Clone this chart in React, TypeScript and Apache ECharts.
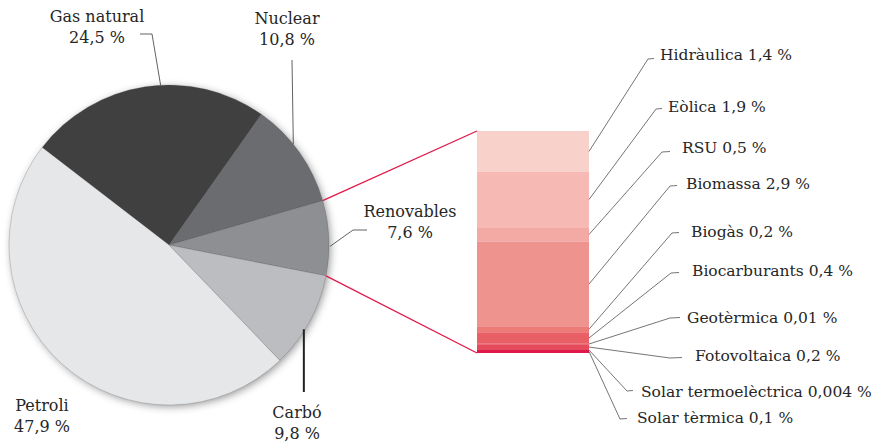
import { useEffect, useRef } from 'react';
import * as echarts from 'echarts';

// Primary energy mix
const sourceNames = ['Gas natural', 'Nuclear', 'Renovables', 'Carbó', 'Petroli'];
const sourceShares = [24.5, 10.8, 7.6, 9.8, 47.9];
const sourceColors = ['#404040', '#6b6c70', '#8e8f93', '#bcbdc1', '#e6e7e9'];

// Breakdown of the renewable share (top to bottom of the column)
const renewableNames = [
  'Hidràulica', 'Eòlica', 'RSU', 'Biomassa', 'Biogàs', 'Biocarburants',
  'Geotèrmica', 'Fotovoltaica', 'Solar termoelèctrica', 'Solar tèrmica',
];
const renewableShares = [1.4, 1.9, 0.5, 2.9, 0.2, 0.4, 0.01, 0.2, 0.004, 0.1];
const renewableColors = [
  '#f8d1cb', '#f6b9b4', '#f3a9a4', '#ee938e', '#ec7b78', '#e85f66',
  '#e6535e', '#e54b5b', '#e22d50', '#e0174a',
];

const fmt = (v: number) => `${String(v).replace('.', ',')} %`;

const SERIF = 'DejaVu Serif, serif';
const INK = '#262626';
const LEAD = '#3a3a3a';
const CRIMSON = '#e0194a';

// Layout
const PIE_CX = 169;
const PIE_CY = 245;
const PIE_R = 160;
const RENEW_MID_ANGLE = 2.5;
const BAR_LEFT = 477;
const BAR_TOP = 131;
const BAR_W = 112;
const BAR_H = 222;

const pieLabelPos = [[97, 27], [287, 29], [410, 222], [297, 423], [42, 416]];
const renewLabelPos = [
  [660, 55], [668, 107], [682, 148], [686, 184], [691, 232],
  [692, 271], [687, 318], [695, 356], [641, 392], [637, 418],
];
const renewElbow = [
  [648, 59, 654], [656, 109, 662], [662, 152, 670], [670, 186, 677], [672, 233, 679],
  [671, 273, 679], [670, 318, 680], [670, 358, 682], [627, 391, 633], [620, 419, 627],
];

const polar = (deg: number, r: number) => {
  const a = (deg * Math.PI) / 180;
  return [PIE_CX + r * Math.cos(a), PIE_CY - r * Math.sin(a)];
};

export default function App() {
  const ref = useRef<HTMLDivElement>(null);

  useEffect(() => {
    if (!ref.current) return;
    const chart = echarts.init(ref.current, undefined, { renderer: 'svg' });

    const pieTotal = sourceShares.reduce((a, b) => a + b, 0);
    const degPer = 360 / pieTotal;
    const renewIdx = sourceNames.indexOf('Renovables');
    const before = sourceShares.slice(0, renewIdx).reduce((a, b) => a + b, 0);
    const startAngle = RENEW_MID_ANGLE + (before + sourceShares[renewIdx] / 2) * degPer;
    const renewTop = startAngle - before * degPer;
    const renewBottom = renewTop - sourceShares[renewIdx] * degPer;

    const barTotal = renewableShares.reduce((a, b) => a + b, 0);

    chart.setOption({
      animation: false,
      textStyle: { fontFamily: SERIF },
      grid: { left: BAR_LEFT, top: BAR_TOP, width: BAR_W, height: BAR_H },
      xAxis: { type: 'category', data: ['Renovables'], show: false },
      yAxis: { type: 'value', min: 0, max: barTotal, inverse: true, show: false },
      series: [
        {
          type: 'pie',
          center: [PIE_CX, PIE_CY],
          radius: PIE_R,
          startAngle,
          clockwise: true,
          silent: true,
          label: { show: false },
          labelLine: { show: false },
          emphasis: { disabled: true },
          itemStyle: { borderColor: 'rgba(70,70,70,0.45)', borderWidth: 0.5 },
          data: sourceNames.map((name, i) => ({
            name,
            value: sourceShares[i],
            itemStyle: { color: sourceColors[i] },
          })),
          z: 2,
        },
        ...renewableNames.map((name, i) => ({
          type: 'bar',
          name,
          stack: 'renewables',
          barWidth: '100%',
          silent: true,
          data: [renewableShares[i]],
          itemStyle: { color: renewableColors[i] },
          z: 2,
        })),
      ],
    });

    const graphics: any[] = [];

    // soft shadow under the pie
    graphics.push({
      type: 'circle',
      shape: { cx: PIE_CX, cy: PIE_CY, r: PIE_R - 1 },
      style: {
        fill: '#bbbbbb',
        shadowBlur: 9,
        shadowColor: 'rgba(0,0,0,0.45)',
        shadowOffsetX: 2,
        shadowOffsetY: 2,
      },
      z: 0,
      silent: true,
    });

    // pie labels
    sourceNames.forEach((name, i) => {
      graphics.push({
        type: 'text',
        x: pieLabelPos[i][0],
        y: pieLabelPos[i][1],
        z: 10,
        style: {
          text: `${name}\n${fmt(sourceShares[i])}`,
          font: `16px ${SERIF}`,
          lineHeight: 21,
          fill: INK,
          align: 'center',
          verticalAlign: 'middle',
        },
      });
    });

    const leader = (points: number[][], width = 0.8) => ({
      type: 'polyline',
      z: 10,
      silent: true,
      shape: { points },
      style: { stroke: LEAD, lineWidth: width, fill: 'none' },
    });

    // pie leaders
    graphics.push(leader([[140, 34], [152, 34], polar(93, PIE_R)]));
    graphics.push(leader([[292, 60], polar(39, PIE_R)]));
    graphics.push(leader([polar(RENEW_MID_ANGLE - 3, PIE_R + 1), [353, 230], [367, 230]]));
    const carbo = polar(-32, PIE_R - 1);
    graphics.push({
      type: 'line',
      z: 10,
      silent: true,
      shape: { x1: carbo[0], y1: carbo[1], x2: carbo[0], y2: 392 },
      style: { stroke: '#222', lineWidth: 2 },
    });

    // connectors from the renewable wedge to the column
    const topPt = polar(renewTop, PIE_R);
    const botPt = polar(renewBottom, PIE_R);
    const colTop = chart.convertToPixel({ gridIndex: 0 }, [0, 0]) as number[];
    const colBot = chart.convertToPixel({ gridIndex: 0 }, [0, barTotal]) as number[];
    graphics.push({
      type: 'line', z: 10, silent: true,
      shape: { x1: topPt[0], y1: topPt[1], x2: BAR_LEFT, y2: colTop[1] },
      style: { stroke: CRIMSON, lineWidth: 1.3 },
    });
    graphics.push({
      type: 'line', z: 10, silent: true,
      shape: { x1: botPt[0], y1: botPt[1], x2: BAR_LEFT, y2: colBot[1] },
      style: { stroke: CRIMSON, lineWidth: 1.3 },
    });

    // column labels and leaders
    let cum = 0;
    renewableNames.forEach((name, i) => {
      const mid = cum + renewableShares[i] / 2;
      cum += renewableShares[i];
      const p = chart.convertToPixel({ gridIndex: 0 }, [0, mid]) as number[];
      const [ex, ey, tx] = renewElbow[i];
      graphics.push(leader([[BAR_LEFT + BAR_W, p[1]], [ex, ey], [tx, ey - 0.5]], 0.7));
      graphics.push({
        type: 'text',
        x: renewLabelPos[i][0],
        y: renewLabelPos[i][1],
        z: 10,
        style: {
          text: `${name} ${fmt(renewableShares[i])}`,
          font: `15.5px ${SERIF}`,
          fill: INK,
          align: 'left',
          verticalAlign: 'middle',
        },
      });
    });

    chart.setOption({ graphic: { elements: graphics } });

    return () => chart.dispose();
  }, []);

  return (
    <div
      ref={ref}
      style={{ position: 'absolute', left: 0, top: 0, width: 874, height: 444, background: '#fff' }}
    />
  );
}
